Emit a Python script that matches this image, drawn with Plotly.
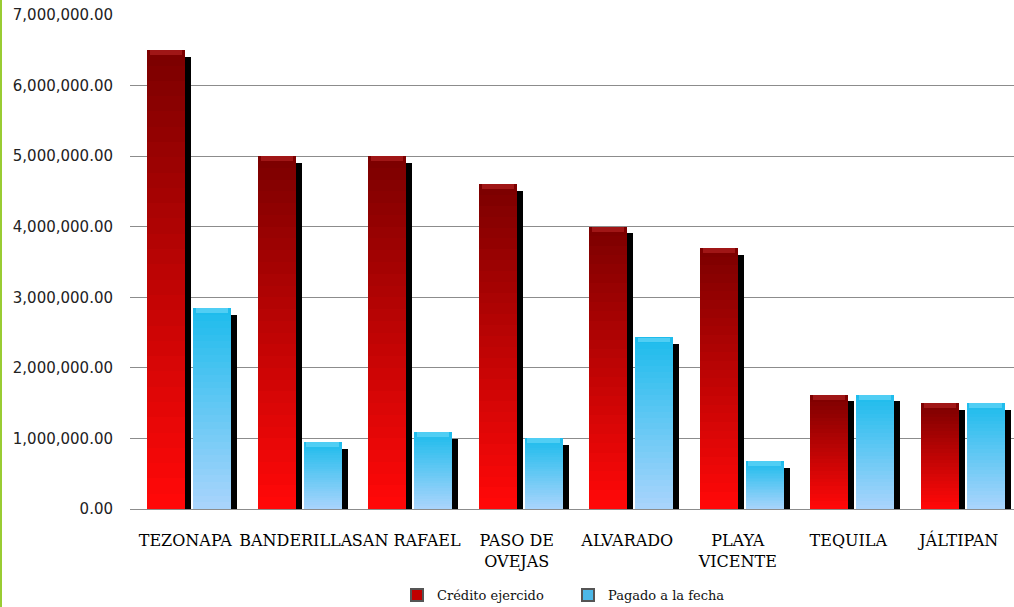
import plotly.graph_objects as go

categories = ["TEZONAPA", "BANDERILLA", "SAN RAFAEL", "PASO DE<br>OVEJAS",
              "ALVARADO", "PLAYA<br>VICENTE", "TEQUILA", "JÁLTIPAN"]
credito = [6500000, 5000000, 5000000, 4600000, 4000000, 3700000, 1620000, 1500000]
pagado = [2850000, 950000, 1090000, 1000000, 2430000, 680000, 1620000, 1500000]
series_names = ["Crédito ejercido", "Pagado a la fecha"]
y_ticks = [0, 1000000, 2000000, 3000000, 4000000, 5000000, 6000000, 7000000]

# styling
N_SEG = 30
red_top, red_bot = (125, 0, 0), (255, 8, 8)
blue_top, blue_bot = (30, 188, 236), (168, 212, 252)
red_cap, blue_cap = (160, 22, 22), (80, 206, 244)
BAR_W = 0.344
OFFSETS = [-0.344, 0.072]
SH_DX = 0.054
SH_DY_TOP = 95000
SH_DY_BOT = 28000
CAP_H = 70000


def lerp(c1, c2, t):
    return "rgb(%d,%d,%d)" % tuple(round(a + (b - a) * t) for a, b in zip(c1, c2))


fig = go.Figure()
x = list(range(len(categories)))

# shadows
for vals, off in zip([credito, pagado], OFFSETS):
    fig.add_trace(go.Bar(
        x=x, y=[v - SH_DY_TOP + SH_DY_BOT for v in vals], base=[-SH_DY_BOT] * len(vals),
        offset=off + SH_DX, width=BAR_W, marker=dict(color="black", line=dict(width=0)),
        showlegend=False, hoverinfo="skip", cliponaxis=False))

# gradient bars
for name, vals, off, ctop, cbot, ccap, leg in zip(
        series_names, [credito, pagado], OFFSETS,
        [red_top, blue_top], [red_bot, blue_bot], [red_cap, blue_cap],
        ["#c00000", "#4cb8e8"]):
    for k in range(N_SEG):
        t = k / (N_SEG - 1)
        fig.add_trace(go.Bar(
            x=x, y=[v / N_SEG * 1.02 for v in vals], base=[v * k / N_SEG for v in vals],
            offset=off, width=BAR_W, marker=dict(color=lerp(cbot, ctop, t), line=dict(width=0)),
            showlegend=False, hoverinfo="skip", cliponaxis=False))
    # bevel cap
    fig.add_trace(go.Bar(
        x=x, y=[CAP_H] * len(vals), base=[v - CAP_H for v in vals],
        offset=off + 0.025, width=BAR_W - 0.05,
        marker=dict(color="rgb(%d,%d,%d)" % ccap, line=dict(width=0)),
        showlegend=False, hoverinfo="skip", cliponaxis=False))
    # legend entry
    fig.add_trace(go.Bar(x=[None], y=[None], name=name,
                         marker=dict(color=leg, line=dict(color="#555", width=0.5)),
                         showlegend=True))

fig.update_layout(
    width=1014, height=607,
    margin=dict(l=130, r=0, t=15, b=98, autoexpand=False),
    paper_bgcolor="white", plot_bgcolor="white",
    barmode="overlay",
    bargap=0,
    xaxis=dict(
        tickmode="array", tickvals=x, ticktext=categories,
        range=[-0.5, len(categories) - 0.5],
        showgrid=False, zeroline=False, showline=False, ticks="",
        tickangle=0,
        tickfont=dict(family="DejaVu Serif", size=16, color="#000"),
        ticklabelstandoff=20,
    ),
    yaxis=dict(
        range=[0, 7000000], tickvals=y_ticks, tickformat=",.2f",
        showgrid=True, gridcolor="#8c8c8c", gridwidth=1,
        zeroline=True, zerolinecolor="#8c8c8c", zerolinewidth=1,
        showline=False, ticks="",
        tickfont=dict(family="DejaVu Sans", size=15, color="#222"),
        ticklabelstandoff=16,
    ),
    legend=dict(
        orientation="h", xref="container", x=397 / 1014, xanchor="left",
        yref="container", y=12 / 607, yanchor="middle",
        font=dict(family="DejaVu Serif", size=13, color="#111"),
        entrywidth=126, itemsizing="constant",
    ),
    shapes=[dict(type="line", xref="paper", yref="paper",
                 x0=-129 / 884, x1=-129 / 884, y0=-0.2, y1=1.04,
                 line=dict(color="#99cc33", width=2))],
)

fig.write_html("out.html")
